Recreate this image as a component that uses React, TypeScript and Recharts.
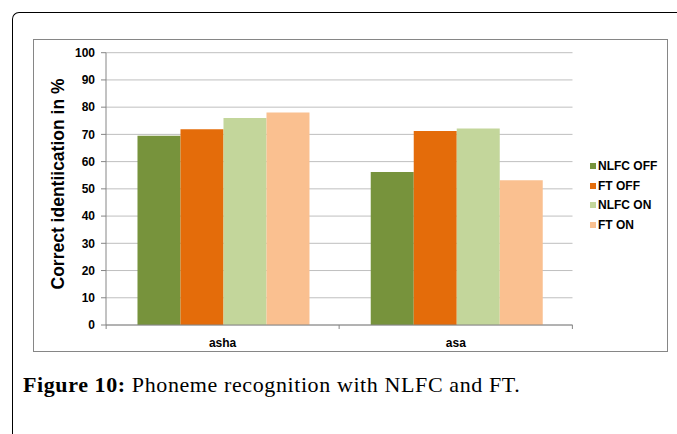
import React from 'react';
import { BarChart, Bar, XAxis, YAxis, CartesianGrid } from 'recharts';

// --- data ---
const categories = ['asha', 'asa'];
const nlfcOff = [69.5, 56.2];
const ftOff = [71.9, 71.2];
const nlfcOn = [76.0, 72.2];
const ftOn = [78.0, 53.2];
const yTicks = [0, 10, 20, 30, 40, 50, 60, 70, 80, 90, 100];

const series = [
  { key: 'nlfcOff', name: 'NLFC OFF', color: '#77933C' },
  { key: 'ftOff', name: 'FT OFF', color: '#E46C0A' },
  { key: 'nlfcOn', name: 'NLFC ON', color: '#C3D69B' },
  { key: 'ftOn', name: 'FT ON', color: '#FAC090' },
];

const data = categories.map((name, i) => ({
  name,
  nlfcOff: nlfcOff[i],
  ftOff: ftOff[i],
  nlfcOn: nlfcOn[i],
  ftOn: ftOn[i],
}));

const FONT = 'Arial, "Liberation Sans", sans-serif';
const AXIS_GRAY = '#868686';

// category label plus the Excel-style tick marks on the band edges
const CategoryTick = (props: any) => {
  const { x, y, payload, index } = props;
  const half = 116.5;
  const y0 = 325;
  return (
    <g>
      {index === 0 && <line x1={x - half} y1={y0} x2={x - half} y2={y0 + 4} stroke={AXIS_GRAY} />}
      <line x1={x + half} y1={y0} x2={x + half} y2={y0 + 4} stroke={AXIS_GRAY} />
      <text x={x} y={y + 14} textAnchor="middle" fontFamily={FONT} fontWeight="bold" fontSize={12} fill="#000">
        {payload.value}
      </text>
    </g>
  );
};

const LegendBox = () => (
  <div style={{ position: 'absolute', left: 590, top: 156, fontFamily: FONT, fontWeight: 'bold', fontSize: 12 }}>
    {series.map((s) => (
      <div key={s.key} style={{ display: 'flex', alignItems: 'center', height: 19.7 }}>
        <span style={{ width: 6, height: 6, background: s.color, marginRight: 2 }} />
        <span>{s.name}</span>
      </div>
    ))}
  </div>
);

export default function App() {
  return (
    <div style={{ position: 'fixed', left: 0, top: 0, width: 677, height: 434, background: '#fff', overflow: 'hidden' }}>
      {/* page frame with rounded corner */}
      <div
        style={{
          position: 'absolute',
          left: 12,
          top: 12,
          width: 700,
          height: 460,
          borderLeft: '1.6px solid #000',
          borderTop: '1.6px solid #000',
          borderTopLeftRadius: 7,
        }}
      />
      {/* chart area border */}
      <div
        style={{
          position: 'absolute',
          left: 33,
          top: 39,
          width: 635,
          height: 313,
          border: `1px solid ${AXIS_GRAY}`,
          boxSizing: 'border-box',
        }}
      />
      <div style={{ position: 'absolute', left: 0, top: 0 }}>
        <BarChart
          width={677}
          height={434}
          data={data}
          margin={{ top: 52.7, right: 104.5, bottom: 84, left: 61 }}
          barCategoryGap="13.5%"
          barGap={0}
        >
          <CartesianGrid vertical={false} stroke="#BFBFBF" strokeWidth={1} />
          <XAxis
            dataKey="name"
            height={25}
            stroke={AXIS_GRAY}
            tickLine={false}
            tick={<CategoryTick />}
            interval={0}
          />
          <YAxis
            width={45}
            domain={[0, 100]}
            ticks={yTicks}
            interval={0}
            stroke={AXIS_GRAY}
            tickSize={5}
            tickMargin={6}
            tick={{ fontFamily: FONT, fontWeight: 'bold', fontSize: 12, fill: '#000' }}
          />
          {series.map((s) => (
            <Bar key={s.key} dataKey={s.key} name={s.name} fill={s.color} isAnimationActive={false} />
          ))}
        </BarChart>
      </div>
      <svg width={677} height={434} style={{ position: 'absolute', left: 0, top: 0, pointerEvents: 'none' }}>
        <text
          x={64}
          y={184}
          transform="rotate(-90 64 184)"
          textAnchor="middle"
          fontFamily={FONT}
          fontWeight="bold"
          fontSize={17.5}
          fill="#000"
        >
          Correct identiication in %
        </text>
      </svg>
      <LegendBox />
      <div
        style={{
          position: 'absolute',
          left: 23,
          top: 372,
          fontFamily: '"Liberation Serif", "Times New Roman", serif',
          fontSize: 22,
          letterSpacing: 0.6,
          color: '#000',
          whiteSpace: 'nowrap',
        }}
      >
        <b>Figure 10:</b> Phoneme recognition with NLFC and FT.
      </div>
    </div>
  );
}
